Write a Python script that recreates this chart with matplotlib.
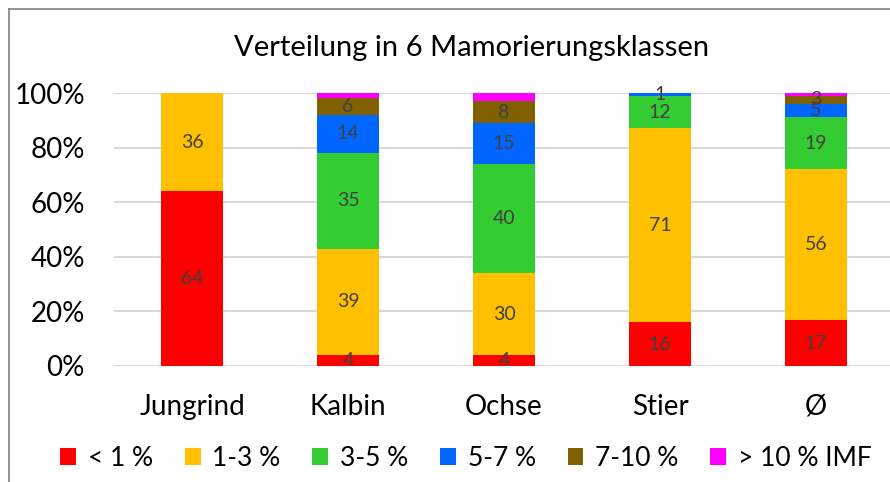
import numpy as np
import matplotlib
matplotlib.use("Agg")
import matplotlib.pyplot as plt
from matplotlib.lines import Line2D

plt.rcParams['font.family'] = ['Lato', 'DejaVu Sans']

categories = ['Jungrind', 'Kalbin', 'Ochse', 'Stier', 'Ø']
classes = ['< 1 %', '1-3 %', '3-5 %', '5-7 %', '7-10 %', '> 10 % IMF']
lt1 = [64, 4, 4, 16, 17]
c1_3 = [36, 39, 30, 71, 56]
c3_5 = [0, 35, 40, 12, 19]
c5_7 = [0, 14, 15, 1, 5]
c7_10 = [0, 6, 8, 0, 3]
gt10 = [0, 2, 3, 0, 1]
colors = ['#FF0000', '#FFC000', '#33CC33', '#0066FF', '#806000', '#FF00FF']
show_labels = [True, True, True, True, True, False]

series = np.array([lt1, c1_3, c3_5, c5_7, c7_10, gt10], dtype=float)
shares = series / series.sum(axis=0)  # 100% stacked

fig = plt.figure(figsize=(8.9, 4.82), dpi=100)
ax = fig.add_axes([114 / 890, 116 / 482, 780 / 890, 273 / 482])

x = np.arange(len(categories))
bottom = np.zeros(len(categories))
for i, name in enumerate(classes):
    bars = ax.bar(x, shares[i], 0.4, bottom=bottom, color=colors[i],
                  label=name, zorder=2)
    if show_labels[i]:
        labels = [str(int(v)) if v > 0 else '' for v in series[i]]
        ax.bar_label(bars, labels=labels, label_type='center',
                     color='#404040', fontsize=14)
    bottom += shares[i]

ax.set_xlim(-0.5, 4.5)
ax.set_ylim(0, 1)
ax.set_yticks(np.arange(0, 1.01, 0.2))
ax.set_yticklabels([f'{int(round(v * 100))}%' for v in np.arange(0, 1.01, 0.2)])
ax.set_xticks(x)
ax.set_xticklabels(categories)
ax.tick_params(axis='both', length=0, labelsize=20, colors='black')
ax.tick_params(axis='x', pad=20)
ax.tick_params(axis='y', pad=21)
ax.grid(axis='y', color='#D9D9D9', linewidth=1.5, zorder=0)
for s in ax.spines.values():
    s.set_visible(False)

fig.text(472 / 890, 1 - 48 / 482, 'Verteilung in 6 Mamorierungsklassen',
         ha='center', va='center', fontsize=21)

fig.legend(loc='center', bbox_to_anchor=(466 / 890, 1 - 458 / 482), ncol=6,
           frameon=False, fontsize=19, handlelength=0.6, handleheight=0.6,
           handletextpad=0.45, columnspacing=1.2)

# chart border (left and top visible)
fig.add_artist(Line2D([9 / 890, 9 / 890], [0, 1 - 9 / 482], color='#7F7F7F',
                      linewidth=1.2, transform=fig.transFigure))
fig.add_artist(Line2D([9 / 890, 1], [1 - 9 / 482, 1 - 9 / 482], color='#7F7F7F',
                      linewidth=1.2, transform=fig.transFigure))

fig.savefig('out.png', dpi=100)
